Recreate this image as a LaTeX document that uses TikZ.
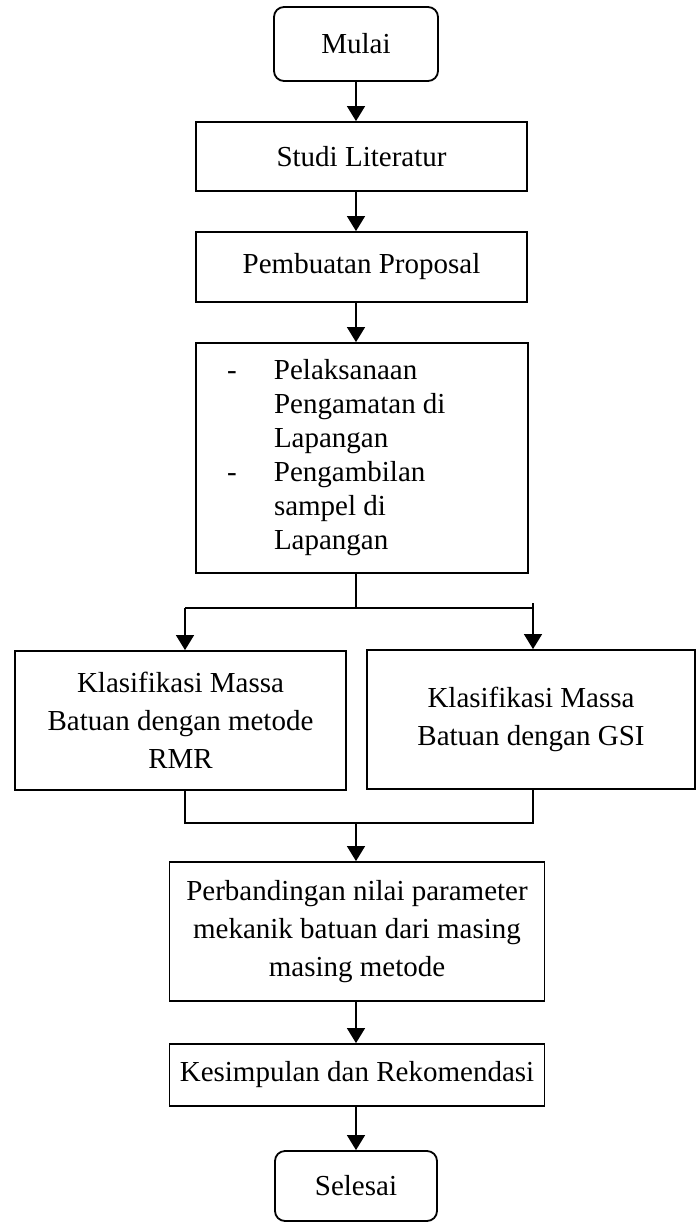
\documentclass[tikz,border=0pt]{standalone}
\usepackage{fontspec}
\setmainfont{Liberation Serif}
\usetikzlibrary{arrows.meta}
\begin{document}
\begin{tikzpicture}[x=1pt,y=-1pt,
  box/.style={draw, line width=1.8pt, align=center, inner sep=0pt, font=\fontsize{29}{38}\selectfont},
  term/.style={box, rounded corners=10pt},
  arr/.style={line width=1.3pt, -{Triangle[width=18pt,length=15pt]}},
  ln/.style={line width=1.3pt}]
\useasboundingbox (0,0) rectangle (700,1223);

\node[term, minimum width=164pt, minimum height=74pt] (mulai) at (356,44) {Mulai};
\node[box, minimum width=331pt, minimum height=69pt] (studi) at (361.5,156.5) {Studi Literatur};
\node[box, minimum width=331pt, minimum height=70pt] (prop) at (361.5,267) {Pembuatan Proposal};
\node[box, minimum width=332pt, minimum height=230pt] (pel) at (362,458)
  {\makebox[332pt][l]{\hspace{31pt}\fontsize{29}{34}\selectfont\begin{tabular}{@{}p{47pt}@{}l@{}}
  - & Pelaksanaan\\
    & Pengamatan di\\
    & Lapangan\\
  - & Pengambilan\\
    & sampel di\\
    & Lapangan
  \end{tabular}}};
\node[box, minimum width=331pt, minimum height=139pt] (rmr) at (180.5,720.5)
  {Klasifikasi Massa\\Batuan dengan metode\\RMR};
\node[box, minimum width=328pt, minimum height=139pt] (gsi) at (531,719.5)
  {Klasifikasi Massa\\Batuan dengan GSI};
\node[box, minimum width=375pt, minimum height=139pt] (perb) at (357,931.5)
  {Perbandingan nilai parameter\\mekanik batuan dari masing\\masing metode};
\node[box, minimum width=375pt, minimum height=62pt] (kes) at (357,1075)
  {Kesimpulan dan Rekomendasi};
\node[term, minimum width=162pt, minimum height=70pt] (sel) at (356,1186) {Selesai};

\coordinate (c) at (356,0);
\coordinate (split) at (356,608);
\coordinate (sl) at (185,608);
\coordinate (sr) at (533,608);
\coordinate (srtop) at (533,603);
\coordinate (ml) at (185,823);
\coordinate (mr) at (533,823);
\coordinate (mc) at (356,823);

\draw[arr] (mulai.south) -- (mulai.south |- studi.north);
\draw[arr] (studi.south -| c) -- (c |- prop.north);
\draw[arr] (prop.south -| c) -- (c |- pel.north);
\draw[ln] (pel.south -| c) -- (split);
\draw[ln] (sl) -- (sr);
\draw[arr] (sl) -- (sl |- rmr.north);
\draw[arr] (srtop) -- (sr |- gsi.north);
\draw[ln] (ml |- rmr.south) -- (ml) -- (mr) -- (mr |- gsi.south);
\draw[arr] (mc) -- (mc |- perb.north);
\draw[arr] (perb.south -| c) -- (c |- kes.north);
\draw[arr] (kes.south -| c) -- (sel.north);
\end{tikzpicture}
\end{document}
